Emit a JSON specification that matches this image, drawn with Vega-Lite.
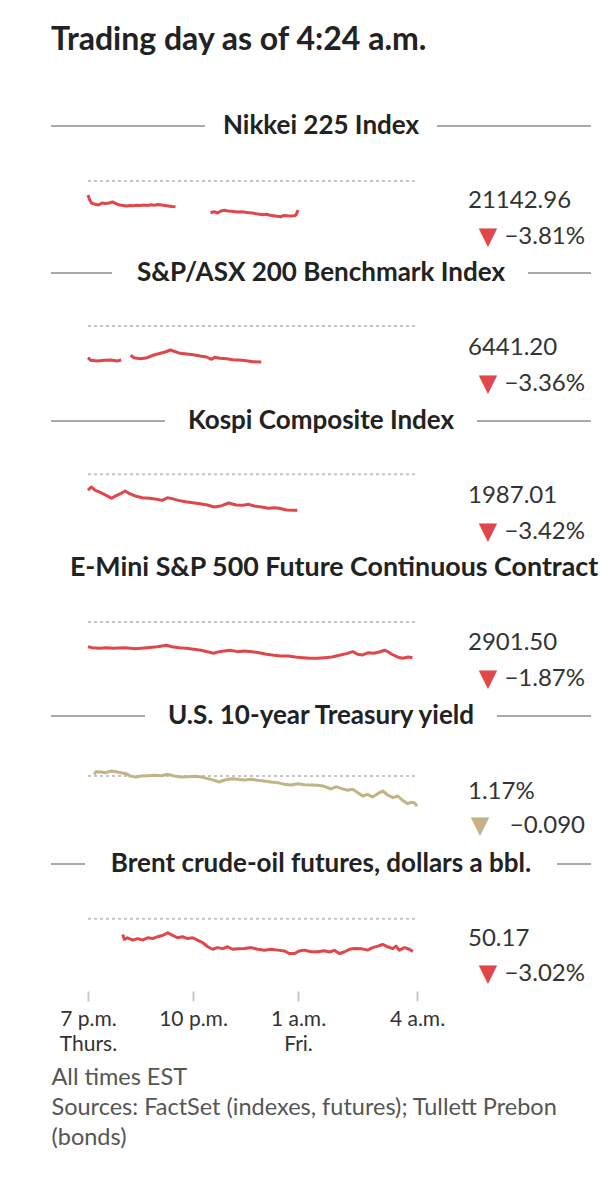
{
  "$schema": "https://vega.github.io/schema/vega-lite/v6.json",
  "background": "white",
  "padding": {"left": 50, "top": 24, "right": 0, "bottom": 0},
  "bounds": "flush",
  "spacing": 0,
  "title": {"text": "Trading day as of 4:24 a.m.", "anchor": "start", "frame": "group", "fontSize": 32, "fontWeight": "bold", "font": "Lato", "color": "#222222", "offset": 56},
  "config": {"view": {"stroke": null}, "font": "Lato", "concat": {"spacing": 0}},
  "resolve": {"scale": {"y": "independent"}},
  "datasets": {
    "nikkei": [
      {"t": 0, "v": 21576, "seg": 1}, {"t": 0.05, "v": 21431, "seg": 1}, {"t": 0.1, "v": 21345, "seg": 1}, {"t": 0.2, "v": 21307, "seg": 1}, {"t": 0.3, "v": 21287, "seg": 1}, {"t": 0.4, "v": 21345, "seg": 1}, {"t": 0.5, "v": 21330, "seg": 1}, {"t": 0.6, "v": 21345, "seg": 1}, {"t": 0.7, "v": 21374, "seg": 1}, {"t": 0.8, "v": 21330, "seg": 1}, {"t": 0.9, "v": 21287, "seg": 1}, {"t": 1.0, "v": 21273, "seg": 1}, {"t": 1.1, "v": 21258, "seg": 1}, {"t": 1.2, "v": 21273, "seg": 1}, {"t": 1.3, "v": 21264, "seg": 1}, {"t": 1.4, "v": 21279, "seg": 1}, {"t": 1.5, "v": 21270, "seg": 1}, {"t": 1.6, "v": 21287, "seg": 1}, {"t": 1.7, "v": 21273, "seg": 1}, {"t": 1.8, "v": 21293, "seg": 1}, {"t": 1.9, "v": 21281, "seg": 1}, {"t": 2.0, "v": 21302, "seg": 1}, {"t": 2.1, "v": 21287, "seg": 1}, {"t": 2.2, "v": 21273, "seg": 1}, {"t": 2.3, "v": 21258, "seg": 1}, {"t": 2.4, "v": 21244, "seg": 1}, {"t": 2.5, "v": 21238, "seg": 1},
      {"t": 3.5, "v": 21065, "seg": 2}, {"t": 3.6, "v": 21094, "seg": 2}, {"t": 3.7, "v": 21056, "seg": 2}, {"t": 3.8, "v": 21114, "seg": 2}, {"t": 3.9, "v": 21134, "seg": 2}, {"t": 4.0, "v": 21114, "seg": 2}, {"t": 4.1, "v": 21105, "seg": 2}, {"t": 4.2, "v": 21094, "seg": 2}, {"t": 4.3, "v": 21085, "seg": 2}, {"t": 4.4, "v": 21091, "seg": 2}, {"t": 4.5, "v": 21076, "seg": 2}, {"t": 4.6, "v": 21065, "seg": 2}, {"t": 4.7, "v": 21056, "seg": 2}, {"t": 4.8, "v": 21036, "seg": 2}, {"t": 4.9, "v": 21022, "seg": 2}, {"t": 5.0, "v": 21007, "seg": 2}, {"t": 5.1, "v": 21022, "seg": 2}, {"t": 5.2, "v": 20993, "seg": 2}, {"t": 5.3, "v": 20978, "seg": 2}, {"t": 5.4, "v": 20961, "seg": 2}, {"t": 5.5, "v": 20949, "seg": 2}, {"t": 5.6, "v": 20984, "seg": 2}, {"t": 5.7, "v": 20975, "seg": 2}, {"t": 5.8, "v": 20969, "seg": 2}, {"t": 5.9, "v": 20978, "seg": 2}, {"t": 5.95, "v": 21013, "seg": 2}, {"t": 6.0, "v": 21142.96, "seg": 2}
    ],
    "asx": [
      {"t": 0, "v": 6468.0, "seg": 1}, {"t": 0.08, "v": 6451.8, "seg": 1}, {"t": 0.27, "v": 6447.4, "seg": 1}, {"t": 0.46, "v": 6451.8, "seg": 1}, {"t": 0.65, "v": 6453.7, "seg": 1}, {"t": 0.84, "v": 6447.4, "seg": 1}, {"t": 0.95, "v": 6453.7, "seg": 1},
      {"t": 1.22, "v": 6482.9, "seg": 2}, {"t": 1.31, "v": 6468.0, "seg": 2}, {"t": 1.5, "v": 6461.7, "seg": 2}, {"t": 1.69, "v": 6468.0, "seg": 2}, {"t": 1.88, "v": 6484.8, "seg": 2}, {"t": 2.07, "v": 6495.3, "seg": 2}, {"t": 2.21, "v": 6503.4, "seg": 2}, {"t": 2.35, "v": 6515.9, "seg": 2}, {"t": 2.44, "v": 6509.6, "seg": 2}, {"t": 2.63, "v": 6495.3, "seg": 2}, {"t": 2.82, "v": 6491.0, "seg": 2}, {"t": 3.01, "v": 6486.6, "seg": 2}, {"t": 3.2, "v": 6478.5, "seg": 2}, {"t": 3.39, "v": 6472.3, "seg": 2}, {"t": 3.53, "v": 6458.0, "seg": 2}, {"t": 3.62, "v": 6470.4, "seg": 2}, {"t": 3.77, "v": 6464.2, "seg": 2}, {"t": 3.96, "v": 6461.7, "seg": 2}, {"t": 4.14, "v": 6455.5, "seg": 2}, {"t": 4.33, "v": 6453.7, "seg": 2}, {"t": 4.52, "v": 6449.3, "seg": 2}, {"t": 4.71, "v": 6443.1, "seg": 2}, {"t": 4.95, "v": 6441.2, "seg": 2}
    ],
    "kospi": [
      {"t": 0, "v": 2026.1}, {"t": 0.09, "v": 2032.6}, {"t": 0.21, "v": 2026.1}, {"t": 0.37, "v": 2021.4}, {"t": 0.52, "v": 2016.3}, {"t": 0.68, "v": 2010.5}, {"t": 0.78, "v": 2015.0}, {"t": 0.93, "v": 2019.5}, {"t": 1.06, "v": 2024.7}, {"t": 1.19, "v": 2019.5}, {"t": 1.35, "v": 2015.0}, {"t": 1.55, "v": 2011.6}, {"t": 1.76, "v": 2010.5}, {"t": 1.96, "v": 2008.5}, {"t": 2.12, "v": 2006.5}, {"t": 2.27, "v": 2011.6}, {"t": 2.43, "v": 2009.4}, {"t": 2.58, "v": 2006.5}, {"t": 2.79, "v": 2003.8}, {"t": 2.99, "v": 2001.8}, {"t": 3.2, "v": 1999.9}, {"t": 3.41, "v": 1997.4}, {"t": 3.61, "v": 1993.4}, {"t": 3.82, "v": 1996.0}, {"t": 4.02, "v": 2001.3}, {"t": 4.23, "v": 1997.4}, {"t": 4.43, "v": 1996.8}, {"t": 4.59, "v": 1998.7}, {"t": 4.75, "v": 1995.4}, {"t": 4.95, "v": 1993.4}, {"t": 5.16, "v": 1990.9}, {"t": 5.31, "v": 1992.1}, {"t": 5.46, "v": 1990.9}, {"t": 5.67, "v": 1987.6}, {"t": 5.88, "v": 1987.0}, {"t": 5.98, "v": 1987.01}
    ],
    "emini": [
      {"t": 0, "v": 2918.5}, {"t": 0.11, "v": 2917.0}, {"t": 0.32, "v": 2916.1}, {"t": 0.53, "v": 2917.0}, {"t": 0.73, "v": 2916.1}, {"t": 1.05, "v": 2917.0}, {"t": 1.36, "v": 2915.4}, {"t": 1.67, "v": 2917.0}, {"t": 1.98, "v": 2918.5}, {"t": 2.24, "v": 2920.7}, {"t": 2.4, "v": 2918.5}, {"t": 2.61, "v": 2917.0}, {"t": 2.81, "v": 2916.1}, {"t": 3.02, "v": 2914.5}, {"t": 3.23, "v": 2913.0}, {"t": 3.44, "v": 2910.3}, {"t": 3.59, "v": 2908.3}, {"t": 3.75, "v": 2910.8}, {"t": 3.9, "v": 2911.9}, {"t": 4.06, "v": 2913.0}, {"t": 4.27, "v": 2910.8}, {"t": 4.47, "v": 2911.9}, {"t": 4.68, "v": 2910.8}, {"t": 4.89, "v": 2909.2}, {"t": 5.1, "v": 2906.8}, {"t": 5.31, "v": 2905.2}, {"t": 5.51, "v": 2904.1}, {"t": 5.72, "v": 2904.1}, {"t": 5.93, "v": 2902.6}, {"t": 6.14, "v": 2901.5}, {"t": 6.35, "v": 2900.6}, {"t": 6.55, "v": 2900.6}, {"t": 6.76, "v": 2901.5}, {"t": 6.97, "v": 2902.6}, {"t": 7.18, "v": 2905.2}, {"t": 7.39, "v": 2907.7}, {"t": 7.57, "v": 2910.8}, {"t": 7.7, "v": 2906.8}, {"t": 7.85, "v": 2905.7}, {"t": 8.01, "v": 2909.2}, {"t": 8.16, "v": 2908.3}, {"t": 8.32, "v": 2910.3}, {"t": 8.47, "v": 2913.0}, {"t": 8.58, "v": 2910.3}, {"t": 8.68, "v": 2906.8}, {"t": 8.84, "v": 2902.6}, {"t": 8.99, "v": 2900.6}, {"t": 9.15, "v": 2902.6}, {"t": 9.27, "v": 2901.5}
    ],
    "tsy": [
      {"t": 0.18, "v": 1.265}, {"t": 0.23, "v": 1.273}, {"t": 0.37, "v": 1.272}, {"t": 0.51, "v": 1.27}, {"t": 0.66, "v": 1.275}, {"t": 0.8, "v": 1.273}, {"t": 0.94, "v": 1.27}, {"t": 1.09, "v": 1.267}, {"t": 1.23, "v": 1.259}, {"t": 1.37, "v": 1.257}, {"t": 1.51, "v": 1.26}, {"t": 1.7, "v": 1.261}, {"t": 1.9, "v": 1.262}, {"t": 2.09, "v": 1.261}, {"t": 2.28, "v": 1.265}, {"t": 2.47, "v": 1.26}, {"t": 2.66, "v": 1.257}, {"t": 2.85, "v": 1.258}, {"t": 3.04, "v": 1.259}, {"t": 3.23, "v": 1.257}, {"t": 3.42, "v": 1.252}, {"t": 3.61, "v": 1.247}, {"t": 3.75, "v": 1.242}, {"t": 3.9, "v": 1.248}, {"t": 4.09, "v": 1.252}, {"t": 4.28, "v": 1.25}, {"t": 4.47, "v": 1.248}, {"t": 4.66, "v": 1.25}, {"t": 4.85, "v": 1.247}, {"t": 5.04, "v": 1.245}, {"t": 5.23, "v": 1.242}, {"t": 5.42, "v": 1.24}, {"t": 5.61, "v": 1.235}, {"t": 5.8, "v": 1.233}, {"t": 5.99, "v": 1.237}, {"t": 6.18, "v": 1.234}, {"t": 6.37, "v": 1.233}, {"t": 6.56, "v": 1.232}, {"t": 6.75, "v": 1.229}, {"t": 6.94, "v": 1.221}, {"t": 7.09, "v": 1.228}, {"t": 7.23, "v": 1.223}, {"t": 7.42, "v": 1.217}, {"t": 7.56, "v": 1.22}, {"t": 7.71, "v": 1.21}, {"t": 7.85, "v": 1.2}, {"t": 7.99, "v": 1.205}, {"t": 8.13, "v": 1.197}, {"t": 8.28, "v": 1.207}, {"t": 8.42, "v": 1.215}, {"t": 8.56, "v": 1.203}, {"t": 8.71, "v": 1.195}, {"t": 8.85, "v": 1.2}, {"t": 8.99, "v": 1.187}, {"t": 9.13, "v": 1.177}, {"t": 9.23, "v": 1.181}, {"t": 9.32, "v": 1.18}, {"t": 9.4, "v": 1.17}
    ],
    "brent": [
      {"t": 0.99, "v": 50.98}, {"t": 1.04, "v": 50.74}, {"t": 1.13, "v": 50.82}, {"t": 1.28, "v": 50.71}, {"t": 1.42, "v": 50.78}, {"t": 1.56, "v": 50.71}, {"t": 1.7, "v": 50.82}, {"t": 1.85, "v": 50.78}, {"t": 1.99, "v": 50.87}, {"t": 2.13, "v": 50.93}, {"t": 2.28, "v": 51.06}, {"t": 2.42, "v": 50.93}, {"t": 2.56, "v": 50.82}, {"t": 2.7, "v": 50.87}, {"t": 2.85, "v": 50.78}, {"t": 2.99, "v": 50.82}, {"t": 3.13, "v": 50.71}, {"t": 3.28, "v": 50.58}, {"t": 3.42, "v": 50.39}, {"t": 3.56, "v": 50.27}, {"t": 3.7, "v": 50.35}, {"t": 3.85, "v": 50.3}, {"t": 3.99, "v": 50.39}, {"t": 4.13, "v": 50.27}, {"t": 4.28, "v": 50.3}, {"t": 4.47, "v": 50.31}, {"t": 4.66, "v": 50.35}, {"t": 4.85, "v": 50.27}, {"t": 5.04, "v": 50.22}, {"t": 5.23, "v": 50.27}, {"t": 5.42, "v": 50.23}, {"t": 5.61, "v": 50.19}, {"t": 5.75, "v": 50.07}, {"t": 5.9, "v": 50.07}, {"t": 6.04, "v": 50.19}, {"t": 6.18, "v": 50.23}, {"t": 6.37, "v": 50.15}, {"t": 6.56, "v": 50.15}, {"t": 6.75, "v": 50.2}, {"t": 6.9, "v": 50.14}, {"t": 7.04, "v": 50.22}, {"t": 7.18, "v": 50.07}, {"t": 7.32, "v": 50.14}, {"t": 7.47, "v": 50.27}, {"t": 7.61, "v": 50.31}, {"t": 7.8, "v": 50.3}, {"t": 7.99, "v": 50.23}, {"t": 8.13, "v": 50.35}, {"t": 8.28, "v": 50.42}, {"t": 8.42, "v": 50.5}, {"t": 8.56, "v": 50.39}, {"t": 8.71, "v": 50.3}, {"t": 8.8, "v": 50.42}, {"t": 8.89, "v": 50.23}, {"t": 9.04, "v": 50.35}, {"t": 9.18, "v": 50.27}, {"t": 9.28, "v": 50.17}
    ]
  },
  "vconcat": [
    {
      "width": 540, "height": 147,
      "data": {"values": [{"title": "Nikkei 225 Index", "last": "21142.96", "chg": "−3.81%", "arrow": "▼", "prev": 21980.4}]},
      "encoding": {
        "x": {"type": "quantitative", "scale": {"domain": [-1.057, 14.371], "zero": false, "nice": false}, "axis": null},
        "y": {"type": "quantitative", "scale": {"domain": [19323.4, 23568.8], "zero": false, "nice": false}, "axis": null}
      },
      "layer": [
        {"mark": {"type": "rule", "color": "#c4c4c4", "strokeWidth": 2, "strokeDash": [3, 3]}, "encoding": {"x": {"datum": 0}, "x2": {"datum": 9.37}, "y": {"field": "prev"}}},
        {"data": {"name": "nikkei"}, "mark": {"type": "line", "color": "#df474b", "strokeWidth": 3, "strokeJoin": "round"}, "encoding": {"x": {"field": "t"}, "y": {"field": "v"}, "detail": {"field": "seg"}}},
        {"mark": {"type": "rule", "color": "#8c8c8c", "strokeWidth": 1.5}, "encoding": {"x": {"datum": -1.057}, "x2": {"datum": 3.343}, "y": {"datum": 23568.8}}},
        {"mark": {"type": "rule", "color": "#8c8c8c", "strokeWidth": 1.5}, "encoding": {"x": {"datum": 9.971}, "x2": {"datum": 14.371}, "y": {"datum": 23568.8}}},
        {"mark": {"type": "text", "font": "Lato", "fontWeight": "bold", "fontSize": 26, "color": "#222222", "align": "center", "baseline": "middle"}, "encoding": {"text": {"field": "title"}, "x": {"datum": 6.657}, "y": {"datum": 23568.8}}},
        {"mark": {"type": "text", "font": "Lato", "fontSize": 24, "color": "#333333", "align": "left", "baseline": "middle", "dy": 75}, "encoding": {"text": {"field": "last"}, "x": {"datum": 10.857}, "y": {"datum": 23568.8}}},
        {"mark": {"type": "text", "font": "DejaVu Sans", "fontSize": 24, "color": "#df474b", "align": "center", "baseline": "middle", "dy": 111}, "encoding": {"text": {"field": "arrow"}, "x": {"datum": 11.43}, "y": {"datum": 23568.8}}},
        {"mark": {"type": "text", "font": "Lato", "fontSize": 24, "color": "#333333", "align": "right", "baseline": "middle", "dy": 111}, "encoding": {"text": {"field": "chg"}, "x": {"datum": 14.2}, "y": {"datum": 23568.8}}}
      ]
    },
    {
      "width": 540, "height": 148,
      "data": {"values": [{"title": "S&P/ASX 200 Benchmark Index", "last": "6441.20", "chg": "−3.36%", "arrow": "▼", "prev": 6665.2}]},
      "encoding": {
        "x": {"type": "quantitative", "scale": {"domain": [-1.057, 14.371], "zero": false, "nice": false}, "axis": null},
        "y": {"type": "quantitative", "scale": {"domain": [6074.1, 6995.0], "zero": false, "nice": false}, "axis": null}
      },
      "layer": [
        {"mark": {"type": "rule", "color": "#c4c4c4", "strokeWidth": 2, "strokeDash": [3, 3]}, "encoding": {"x": {"datum": 0}, "x2": {"datum": 9.37}, "y": {"field": "prev"}}},
        {"data": {"name": "asx"}, "mark": {"type": "line", "color": "#df474b", "strokeWidth": 3, "strokeJoin": "round"}, "encoding": {"x": {"field": "t"}, "y": {"field": "v"}, "detail": {"field": "seg"}}},
        {"mark": {"type": "rule", "color": "#8c8c8c", "strokeWidth": 1.5}, "encoding": {"x": {"datum": -1.057}, "x2": {"datum": 0.686}, "y": {"datum": 6995.0}}},
        {"mark": {"type": "rule", "color": "#8c8c8c", "strokeWidth": 1.5}, "encoding": {"x": {"datum": 12.571}, "x2": {"datum": 14.371}, "y": {"datum": 6995.0}}},
        {"mark": {"type": "text", "font": "Lato", "fontWeight": "bold", "fontSize": 26, "color": "#222222", "align": "center", "baseline": "middle"}, "encoding": {"text": {"field": "title"}, "x": {"datum": 6.657}, "y": {"datum": 6995.0}}},
        {"mark": {"type": "text", "font": "Lato", "fontSize": 24, "color": "#333333", "align": "left", "baseline": "middle", "dy": 75}, "encoding": {"text": {"field": "last"}, "x": {"datum": 10.857}, "y": {"datum": 6995.0}}},
        {"mark": {"type": "text", "font": "DejaVu Sans", "fontSize": 24, "color": "#df474b", "align": "center", "baseline": "middle", "dy": 111}, "encoding": {"text": {"field": "arrow"}, "x": {"datum": 11.43}, "y": {"datum": 6995.0}}},
        {"mark": {"type": "text", "font": "Lato", "fontSize": 24, "color": "#333333", "align": "right", "baseline": "middle", "dy": 111}, "encoding": {"text": {"field": "chg"}, "x": {"datum": 14.2}, "y": {"datum": 6995.0}}}
      ]
    },
    {
      "width": 540, "height": 147,
      "data": {"values": [{"title": "Kospi Composite Index", "last": "1987.01", "chg": "−3.42%", "arrow": "▼", "prev": 2057.4}]},
      "encoding": {
        "x": {"type": "quantitative", "scale": {"domain": [-1.057, 14.371], "zero": false, "nice": false}, "axis": null},
        "y": {"type": "quantitative", "scale": {"domain": [1874.2, 2161.7], "zero": false, "nice": false}, "axis": null}
      },
      "layer": [
        {"mark": {"type": "rule", "color": "#c4c4c4", "strokeWidth": 2, "strokeDash": [3, 3]}, "encoding": {"x": {"datum": 0}, "x2": {"datum": 9.37}, "y": {"field": "prev"}}},
        {"data": {"name": "kospi"}, "mark": {"type": "line", "color": "#df474b", "strokeWidth": 3, "strokeJoin": "round"}, "encoding": {"x": {"field": "t"}, "y": {"field": "v"}}},
        {"mark": {"type": "rule", "color": "#8c8c8c", "strokeWidth": 1.5}, "encoding": {"x": {"datum": -1.057}, "x2": {"datum": 2.2}, "y": {"datum": 2161.7}}},
        {"mark": {"type": "rule", "color": "#8c8c8c", "strokeWidth": 1.5}, "encoding": {"x": {"datum": 11.114}, "x2": {"datum": 14.371}, "y": {"datum": 2161.7}}},
        {"mark": {"type": "text", "font": "Lato", "fontWeight": "bold", "fontSize": 26, "color": "#222222", "align": "center", "baseline": "middle"}, "encoding": {"text": {"field": "title"}, "x": {"datum": 6.657}, "y": {"datum": 2161.7}}},
        {"mark": {"type": "text", "font": "Lato", "fontSize": 24, "color": "#333333", "align": "left", "baseline": "middle", "dy": 75}, "encoding": {"text": {"field": "last"}, "x": {"datum": 10.857}, "y": {"datum": 2161.7}}},
        {"mark": {"type": "text", "font": "DejaVu Sans", "fontSize": 24, "color": "#df474b", "align": "center", "baseline": "middle", "dy": 111}, "encoding": {"text": {"field": "arrow"}, "x": {"datum": 11.43}, "y": {"datum": 2161.7}}},
        {"mark": {"type": "text", "font": "Lato", "fontSize": 24, "color": "#333333", "align": "right", "baseline": "middle", "dy": 111}, "encoding": {"text": {"field": "chg"}, "x": {"datum": 14.2}, "y": {"datum": 2161.7}}}
      ]
    },
    {
      "width": 540, "height": 148,
      "data": {"values": [{"title": "E-Mini S&P 500 Future Continuous Contract", "last": "2901.50", "chg": "−1.87%", "arrow": "▼", "prev": 2956.8}]},
      "encoding": {
        "x": {"type": "quantitative", "scale": {"domain": [-1.057, 14.371], "zero": false, "nice": false}, "axis": null},
        "y": {"type": "quantitative", "scale": {"domain": [2811.1, 3040.4], "zero": false, "nice": false}, "axis": null}
      },
      "layer": [
        {"mark": {"type": "rule", "color": "#c4c4c4", "strokeWidth": 2, "strokeDash": [3, 3]}, "encoding": {"x": {"datum": 0}, "x2": {"datum": 9.37}, "y": {"field": "prev"}}},
        {"data": {"name": "emini"}, "mark": {"type": "line", "color": "#df474b", "strokeWidth": 3, "strokeJoin": "round"}, "encoding": {"x": {"field": "t"}, "y": {"field": "v"}}},
        {"mark": {"type": "text", "font": "Lato", "fontWeight": "bold", "fontSize": 26.8, "color": "#222222", "align": "center", "baseline": "middle"}, "encoding": {"text": {"field": "title"}, "x": {"datum": 7.029}, "y": {"datum": 3040.4}}},
        {"mark": {"type": "text", "font": "Lato", "fontSize": 24, "color": "#333333", "align": "left", "baseline": "middle", "dy": 75}, "encoding": {"text": {"field": "last"}, "x": {"datum": 10.857}, "y": {"datum": 3040.4}}},
        {"mark": {"type": "text", "font": "DejaVu Sans", "fontSize": 24, "color": "#df474b", "align": "center", "baseline": "middle", "dy": 111}, "encoding": {"text": {"field": "arrow"}, "x": {"datum": 11.43}, "y": {"datum": 3040.4}}},
        {"mark": {"type": "text", "font": "Lato", "fontSize": 24, "color": "#333333", "align": "right", "baseline": "middle", "dy": 111}, "encoding": {"text": {"field": "chg"}, "x": {"datum": 14.2}, "y": {"datum": 3040.4}}}
      ]
    },
    {
      "width": 540, "height": 148,
      "data": {"values": [{"title": "U.S. 10-year Treasury yield", "last": "1.17%", "chg": "−0.090", "arrow": "▼", "prev": 1.26}]},
      "encoding": {
        "x": {"type": "quantitative", "scale": {"domain": [-1.057, 14.371], "zero": false, "nice": false}, "axis": null},
        "y": {"type": "quantitative", "scale": {"domain": [0.996, 1.44], "zero": false, "nice": false}, "axis": null}
      },
      "layer": [
        {"mark": {"type": "rule", "color": "#c4c4c4", "strokeWidth": 2, "strokeDash": [3, 3]}, "encoding": {"x": {"datum": 0}, "x2": {"datum": 9.37}, "y": {"field": "prev"}}},
        {"data": {"name": "tsy"}, "mark": {"type": "line", "color": "#c2b484", "strokeWidth": 3, "strokeJoin": "round"}, "encoding": {"x": {"field": "t"}, "y": {"field": "v"}}},
        {"mark": {"type": "rule", "color": "#8c8c8c", "strokeWidth": 1.5}, "encoding": {"x": {"datum": -1.057}, "x2": {"datum": 1.629}, "y": {"datum": 1.44}}},
        {"mark": {"type": "rule", "color": "#8c8c8c", "strokeWidth": 1.5}, "encoding": {"x": {"datum": 11.686}, "x2": {"datum": 14.371}, "y": {"datum": 1.44}}},
        {"mark": {"type": "text", "font": "Lato", "fontWeight": "bold", "fontSize": 26, "color": "#222222", "align": "center", "baseline": "middle"}, "encoding": {"text": {"field": "title"}, "x": {"datum": 6.657}, "y": {"datum": 1.44}}},
        {"mark": {"type": "text", "font": "Lato", "fontSize": 24, "color": "#333333", "align": "left", "baseline": "middle", "dy": 76}, "encoding": {"text": {"field": "last"}, "x": {"datum": 10.857}, "y": {"datum": 1.44}}},
        {"mark": {"type": "text", "font": "DejaVu Sans", "fontSize": 24, "color": "#c2b484", "align": "center", "baseline": "middle", "dy": 110}, "encoding": {"text": {"field": "arrow"}, "x": {"datum": 11.2}, "y": {"datum": 1.44}}},
        {"mark": {"type": "text", "font": "Lato", "fontSize": 24, "color": "#333333", "align": "right", "baseline": "middle", "dy": 110}, "encoding": {"text": {"field": "chg"}, "x": {"datum": 14.2}, "y": {"datum": 1.44}}}
      ]
    },
    {
      "width": 540, "height": 127,
      "data": {"values": [{"title": "Brent crude-oil futures, dollars a bbl.", "last": "50.17", "chg": "−3.02%", "arrow": "▼", "prev": 51.73}]},
      "encoding": {
        "x": {"type": "quantitative", "scale": {"domain": [-1.057, 14.371], "zero": false, "nice": false}, "axis": {"values": [0, 3, 6, 9.4], "labelExpr": "datum.value == 0 ? ['7 p.m.', 'Thurs.'] : datum.value == 3 ? '10 p.m.' : datum.value == 6 ? ['1 a.m.', 'Fri.'] : '4 a.m.'", "domain": false, "grid": false, "ticks": true, "tickColor": "#c8c8c8", "tickSize": 10, "tickWidth": 2, "labelFont": "Lato", "labelFontSize": 21, "labelColor": "#333333", "labelLineHeight": 25, "labelPadding": 7, "labelFlush": false, "labelOverlap": false, "labelBaseline": "top", "title": ["All times EST", "Sources: FactSet (indexes, futures); Tullett Prebon", "(bonds)"], "titleAnchor": "start", "titleAlign": "left", "titleFont": "Lato", "titleFontSize": 23.5, "titleFontWeight": "normal", "titleColor": "#555555", "titleLineHeight": 30, "titlePadding": 11}},
        "y": {"type": "quantitative", "scale": {"domain": [48.278, 54.342], "zero": false, "nice": false}, "axis": null}
      },
      "layer": [
        {"mark": {"type": "rule", "color": "#c4c4c4", "strokeWidth": 2, "strokeDash": [3, 3]}, "encoding": {"x": {"datum": 0}, "x2": {"datum": 9.37}, "y": {"field": "prev"}}},
        {"data": {"name": "brent"}, "mark": {"type": "line", "color": "#df474b", "strokeWidth": 3, "strokeJoin": "round"}, "encoding": {"x": {"field": "t"}, "y": {"field": "v"}}},
        {"mark": {"type": "rule", "color": "#8c8c8c", "strokeWidth": 1.5}, "encoding": {"x": {"datum": -1.057}, "x2": {"datum": -0.086}, "y": {"datum": 54.342}}},
        {"mark": {"type": "rule", "color": "#8c8c8c", "strokeWidth": 1.5}, "encoding": {"x": {"datum": 13.4}, "x2": {"datum": 14.371}, "y": {"datum": 54.342}}},
        {"mark": {"type": "text", "font": "Lato", "fontWeight": "bold", "fontSize": 26, "color": "#222222", "align": "center", "baseline": "middle"}, "encoding": {"text": {"field": "title"}, "x": {"datum": 6.657}, "y": {"datum": 54.342}}},
        {"mark": {"type": "text", "font": "Lato", "fontSize": 24, "color": "#333333", "align": "left", "baseline": "middle", "dy": 75}, "encoding": {"text": {"field": "last"}, "x": {"datum": 10.857}, "y": {"datum": 54.342}}},
        {"mark": {"type": "text", "font": "DejaVu Sans", "fontSize": 24, "color": "#df474b", "align": "center", "baseline": "middle", "dy": 110}, "encoding": {"text": {"field": "arrow"}, "x": {"datum": 11.43}, "y": {"datum": 54.342}}},
        {"mark": {"type": "text", "font": "Lato", "fontSize": 24, "color": "#333333", "align": "right", "baseline": "middle", "dy": 110}, "encoding": {"text": {"field": "chg"}, "x": {"datum": 14.2}, "y": {"datum": 54.342}}}
      ]
    }
  ]
}
